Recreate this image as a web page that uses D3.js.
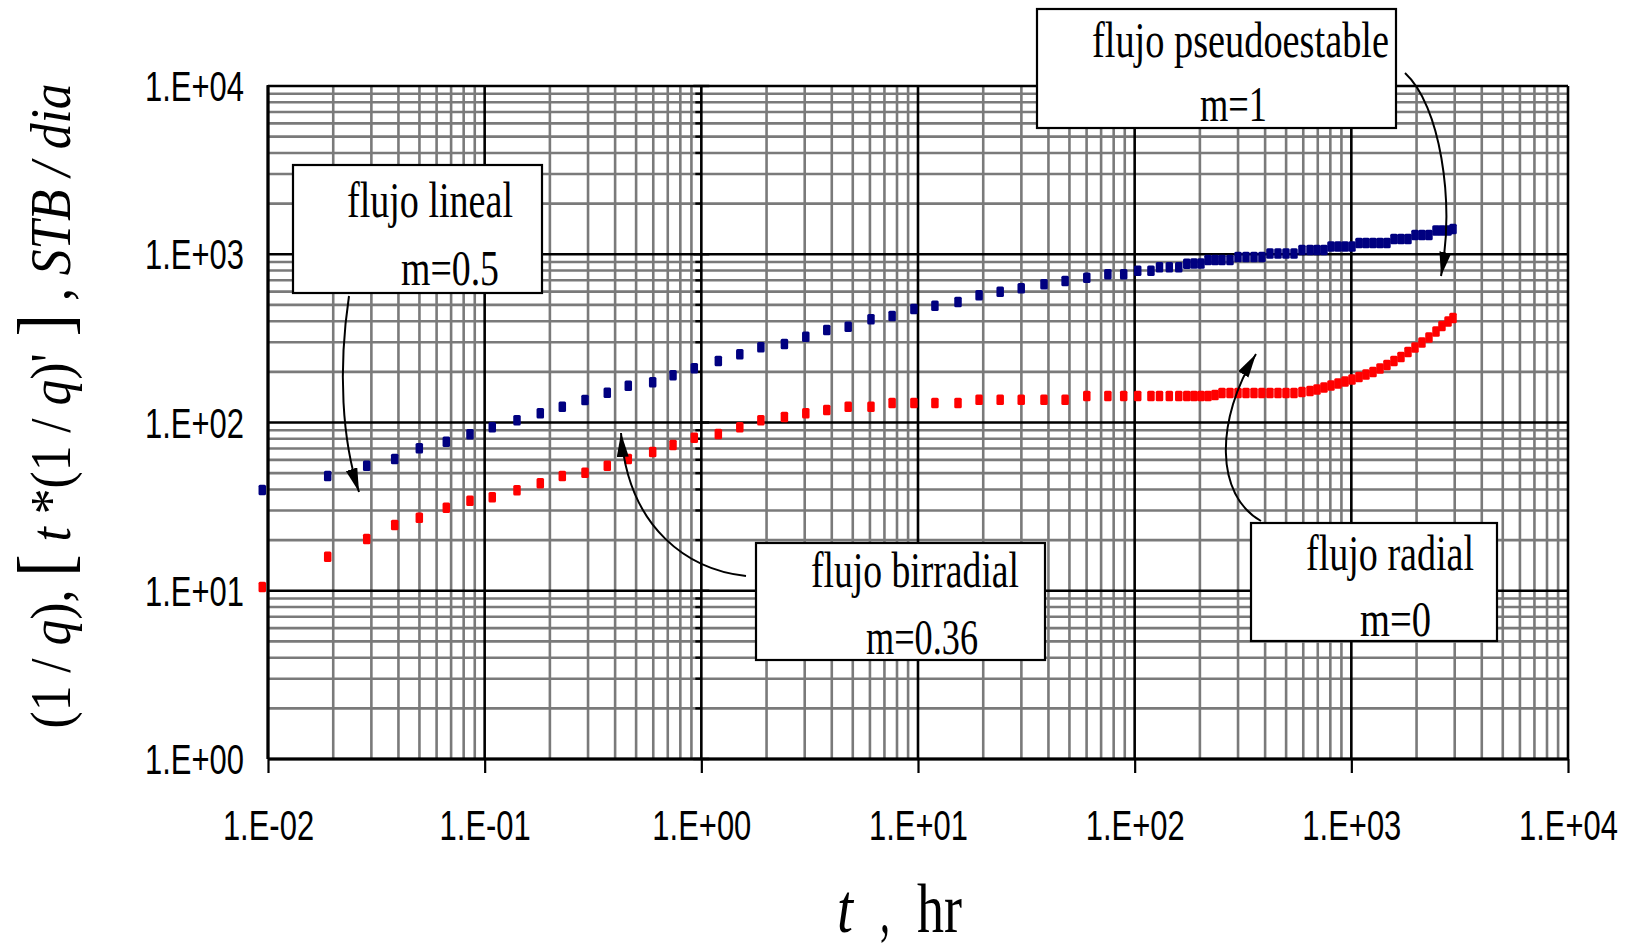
<!DOCTYPE html>
<html>
<head>
<meta charset="utf-8">
<script src="https://cdn.jsdelivr.net/npm/d3@7"></script>
<style>
  html, body { margin: 0; padding: 0; background: #fff; }
  svg { display: block; }
</style>
</head>
<body>
<svg id="chart" width="1630" height="946"></svg>
<script>
// ==== Data ====
// time, hr
const tHours = [
  0.00941, 0.01886, 0.02855, 0.03844, 0.04993, 0.06652, 0.08556, 0.1084, 0.1410, 0.1806,
  0.2282, 0.2905, 0.3681, 0.4601, 0.5963, 0.7401, 0.9279,
  1.198, 1.505, 1.883, 2.418, 3.035, 3.793, 4.763, 6.067, 7.595, 9.574,
  11.97, 15.30, 19.14, 23.95, 29.95, 38.15, 47.75, 60.12, 75.22, 89.01,
  103.3, 118.9, 130.2, 144.5, 159.8, 174.0,
  187.8, 202.3, 218.0, 234.8, 252.9, 275.4, 299.9, 326.4, 355.4, 386.8,
  421.1, 458.6, 499.3, 543.6, 591.8, 644.6, 694.1, 747.6, 805.4, 867.6,
  934.8, 1007, 1085, 1168, 1259, 1356, 1460, 1573, 1695, 1826,
  1967, 2118, 2282, 2459, 2620, 2794, 2946
];
// 1/q, STB/dia (blue)
const invQ = [
  39.70, 48.08, 55.37, 60.69, 70.27, 76.89, 85.10, 93.65, 103.1, 113.4,
  124.2, 136.1, 150.4, 165.4, 173.3, 190.8, 209.9,
  232.0, 254.3, 279.9, 292.8, 323.6, 354.6, 371.0, 410.6, 429.5, 472.7,
  494.5, 520.2, 570.2, 598.9, 627.5, 662.9, 693.5, 725.5, 760.1, 760.1,
  798.5, 798.5, 836.5, 836.5, 836.5, 878.8,
  881.0, 881.0, 924.3, 924.3, 924.3, 924.3, 963.1, 963.1, 963.1, 963.1,
  1010, 1010, 1010, 1010, 1060, 1060, 1060, 1060, 1112, 1112,
  1112, 1112, 1166, 1166, 1166, 1166, 1166, 1232, 1232, 1232,
  1301, 1301, 1301, 1384, 1384, 1384, 1413
];
// t*(1/q)', STB/dia (red)
const derivQ = [
  10.53, 15.94, 20.30, 24.59, 27.19, 31.16, 34.29, 35.93, 39.54, 43.52,
  48.08, 50.30, 55.37, 60.69, 66.79, 73.50, 81.22,
  85.45, 93.65, 103.1, 107.8, 113.4, 118.7, 124.2, 124.2, 130.6, 130.6,
  130.6, 130.6, 136.6, 136.6, 136.6, 136.6, 136.6, 143.7, 143.7, 143.7,
  143.7, 143.7, 143.7, 143.7, 143.7, 143.7,
  143.7, 143.7, 143.7, 145.7, 149.8, 149.8, 149.8, 149.8, 149.8, 149.8,
  149.8, 149.8, 149.8, 149.8, 151.8, 153.9, 157.1, 161.4, 165.9, 170.5,
  175.2, 180.1, 186.4, 192.9, 199.6, 209.4, 219.7, 232.0, 245.1, 262.4,
  279.2, 298.9, 320.1, 347.4, 374.6, 398.4, 417.9
];

const xTickVals = [0.01, 0.1, 1, 10, 100, 1000, 10000];
const xTickLabels = ["1.E-02", "1.E-01", "1.E+00", "1.E+01", "1.E+02", "1.E+03", "1.E+04"];
const yTickVals = [1, 10, 100, 1000, 10000];
const yTickLabels = ["1.E+00", "1.E+01", "1.E+02", "1.E+03", "1.E+04"];

const noteTitles = ["flujo lineal", "flujo birradial", "flujo radial", "flujo pseudoestable"];
const noteSlopes = ["m=0.5", "m=0.36", "m=0", "m=1"];

// ==== Layout ====
const L = 268, R = 1568, T = 86, B = 759;
const SANS = "'Liberation Sans', Arial, sans-serif";
const SERIF = "'Liberation Serif', 'Times New Roman', serif";
const squeeze = 0.72;   // text in the source is horizontally condensed

const svg = d3.select("#chart");
const x = d3.scaleLog().domain([0.01, 1e4]).range([L, R]);
const y = d3.scaleLog().domain([1, 1e4]).range([B, T]);

const isMajor = v => Math.abs(Math.log10(v) - Math.round(Math.log10(v))) < 1e-9;

// ==== Grid ====
const gGrid = svg.append("g");
const xt = x.ticks(), yt = y.ticks();

gGrid.selectAll("line.vmin").data(xt.filter(v => !isMajor(v))).join("line")
  .attr("x1", d => x(d)).attr("x2", d => x(d)).attr("y1", T).attr("y2", B)
  .attr("stroke", "#7a7a7a").attr("stroke-width", 2.6);
gGrid.selectAll("line.hmin").data(yt.filter(v => !isMajor(v))).join("line")
  .attr("x1", L).attr("x2", R).attr("y1", d => y(d)).attr("y2", d => y(d))
  .attr("stroke", "#7a7a7a").attr("stroke-width", 2.6);
gGrid.selectAll("line.vmaj").data(xt.filter(isMajor)).join("line")
  .attr("x1", d => x(d)).attr("x2", d => x(d)).attr("y1", T).attr("y2", B)
  .attr("stroke", "#000").attr("stroke-width", 2.6);
gGrid.selectAll("line.hmaj").data(yt.filter(isMajor)).join("line")
  .attr("x1", L).attr("x2", R).attr("y1", d => y(d)).attr("y2", d => y(d))
  .attr("stroke", "#000").attr("stroke-width", 2.6);

// vertical axis crossing at t = 1 (ticks only)
const xc = x(1);
gGrid.selectAll("line.ytick").data(yt).join("line")
  .attr("x1", d => isMajor(d) ? xc - 8 : xc - 6)
  .attr("x2", d => isMajor(d) ? xc + 8 : xc)
  .attr("y1", d => y(d)).attr("y2", d => y(d))
  .attr("stroke", "#000").attr("stroke-width", 2.4);

// frame
gGrid.append("line").attr("x1", L).attr("x2", L).attr("y1", T - 1).attr("y2", B)
  .attr("stroke", "#000").attr("stroke-width", 3);
gGrid.append("line").attr("x1", L).attr("x2", R).attr("y1", B).attr("y2", B)
  .attr("stroke", "#000").attr("stroke-width", 3);

// ==== Axes ====
const xAxis = svg.append("g").attr("transform", `translate(0,${B})`)
  .call(d3.axisBottom(x).tickValues(xTickVals)
    .tickFormat((d, i) => xTickLabels[i]).tickSize(14).tickSizeOuter(0).tickPadding(36));
xAxis.select(".domain").remove();
xAxis.selectAll(".tick line").attr("stroke", "#000").attr("stroke-width", 2.2);
xAxis.selectAll(".tick text")
  .attr("font-family", SANS).attr("font-size", 43).attr("fill", "#000")
  .attr("transform", `scale(${squeeze},1)`);

const yAxis = svg.append("g").attr("transform", `translate(${L},0)`)
  .call(d3.axisLeft(y).tickValues(yTickVals)
    .tickFormat((d, i) => yTickLabels[i]).tickSize(0).tickSizeOuter(0).tickPadding(24 / squeeze));
yAxis.select(".domain").remove();
yAxis.selectAll(".tick text")
  .attr("font-family", SANS).attr("font-size", 43).attr("fill", "#000")
  .attr("dy", "0.34em")
  .attr("transform", `scale(${squeeze},1)`);

// ==== Series ====
const rows = tHours.map((t, i) => ({ t, a: invQ[i], b: derivQ[i] }));
const mw = 7.5, mh = 10.5;
const gData = svg.append("g");
gData.selectAll("rect.blue").data(rows).join("rect")
  .attr("x", d => x(d.t) - mw / 2).attr("y", d => y(d.a) - mh / 2)
  .attr("width", mw).attr("height", mh).attr("rx", 1.5)
  .attr("fill", "#000080");
gData.selectAll("rect.red").data(rows).join("rect")
  .attr("x", d => x(d.t) - mw / 2).attr("y", d => y(d.b) - mh / 2)
  .attr("width", mw).attr("height", mh).attr("rx", 1.5)
  .attr("fill", "#ff0000");

// ==== Annotations ====
svg.append("defs").append("marker")
  .attr("id", "head").attr("markerUnits", "userSpaceOnUse")
  .attr("markerWidth", 26).attr("markerHeight", 14)
  .attr("refX", 24).attr("refY", 6).attr("orient", "auto")
  .append("path").attr("d", "M0,0 L24,6 L0,12 Z").attr("fill", "#000");

const noteLayout = [
  { box: [293, 165, 249, 128], t1: [347, 217, 166], t2: [401, 285, 98],
    arrow: "M349,296 C338,370 342,440 359,492" },
  { box: [756, 543, 289, 117], t1: [811, 587, 208], t2: [866, 654, 112],
    arrow: "M746,576 C690,570 628,530 621,433" },
  { box: [1251, 523, 246, 118], t1: [1306, 570, 168], t2: [1360, 636, 71],
    arrow: "M1261,521 C1215,495 1215,420 1256,354" },
  { box: [1037, 9, 359, 119], t1: [1092, 57, 297], t2: [1200, 121, 67],
    arrow: "M1405,73 C1440,105 1455,200 1441,276" }
];

const gNotes = svg.append("g");
noteLayout.forEach(n => {
  gNotes.append("path").attr("d", n.arrow)
    .attr("fill", "none").attr("stroke", "#000").attr("stroke-width", 2)
    .attr("marker-end", "url(#head)");
});
noteLayout.forEach((n, i) => {
  const g = gNotes.append("g");
  g.append("rect")
    .attr("x", n.box[0]).attr("y", n.box[1]).attr("width", n.box[2]).attr("height", n.box[3])
    .attr("fill", "#fff").attr("stroke", "#000").attr("stroke-width", 2.2);
  [[noteTitles[i], n.t1], [noteSlopes[i], n.t2]].forEach(([s, p]) => {
    g.append("text")
      .attr("x", p[0]).attr("y", p[1])
      .attr("font-family", SERIF).attr("font-size", 50).attr("fill", "#000")
      .attr("textLength", p[2]).attr("lengthAdjust", "spacingAndGlyphs")
      .text(s);
  });
});

// ==== Axis titles ====
const yTitleParts = [
  { s: "(1 / " }, { s: "q", it: true }, { s: "), " },
  { s: "[", big: true }, { s: " t", it: true }, { s: " *(1 / " }, { s: "q", it: true },
  { s: ")'" }, { s: " ]", big: true }, { s: " , " }, { s: "STB / dia", it: true }
];
const yTitle = svg.append("text")
  .attr("transform", "translate(70,406) rotate(-90)")
  .attr("text-anchor", "middle")
  .attr("font-family", SERIF).attr("font-size", 58).attr("fill", "#000")
  .attr("textLength", 645).attr("lengthAdjust", "spacingAndGlyphs");
yTitleParts.forEach(p => {
  yTitle.append("tspan")
    .attr("font-style", p.it ? "italic" : "normal")
    .attr("font-size", p.big ? 76 : 58)
    .text(p.s);
});

const xTitleParts = [
  { s: "t", it: true, x: 837, w: 16 },
  { s: ",", x: 880, w: 10 },
  { s: "hr", x: 917, w: 45 }
];
xTitleParts.forEach(p => {
  svg.append("text")
    .attr("x", p.x).attr("y", 932)
    .attr("font-family", SERIF).attr("font-size", 70).attr("fill", "#000")
    .attr("font-style", p.it ? "italic" : "normal")
    .attr("textLength", p.w).attr("lengthAdjust", "spacingAndGlyphs")
    .text(p.s);
});
</script>
</body>
</html>
